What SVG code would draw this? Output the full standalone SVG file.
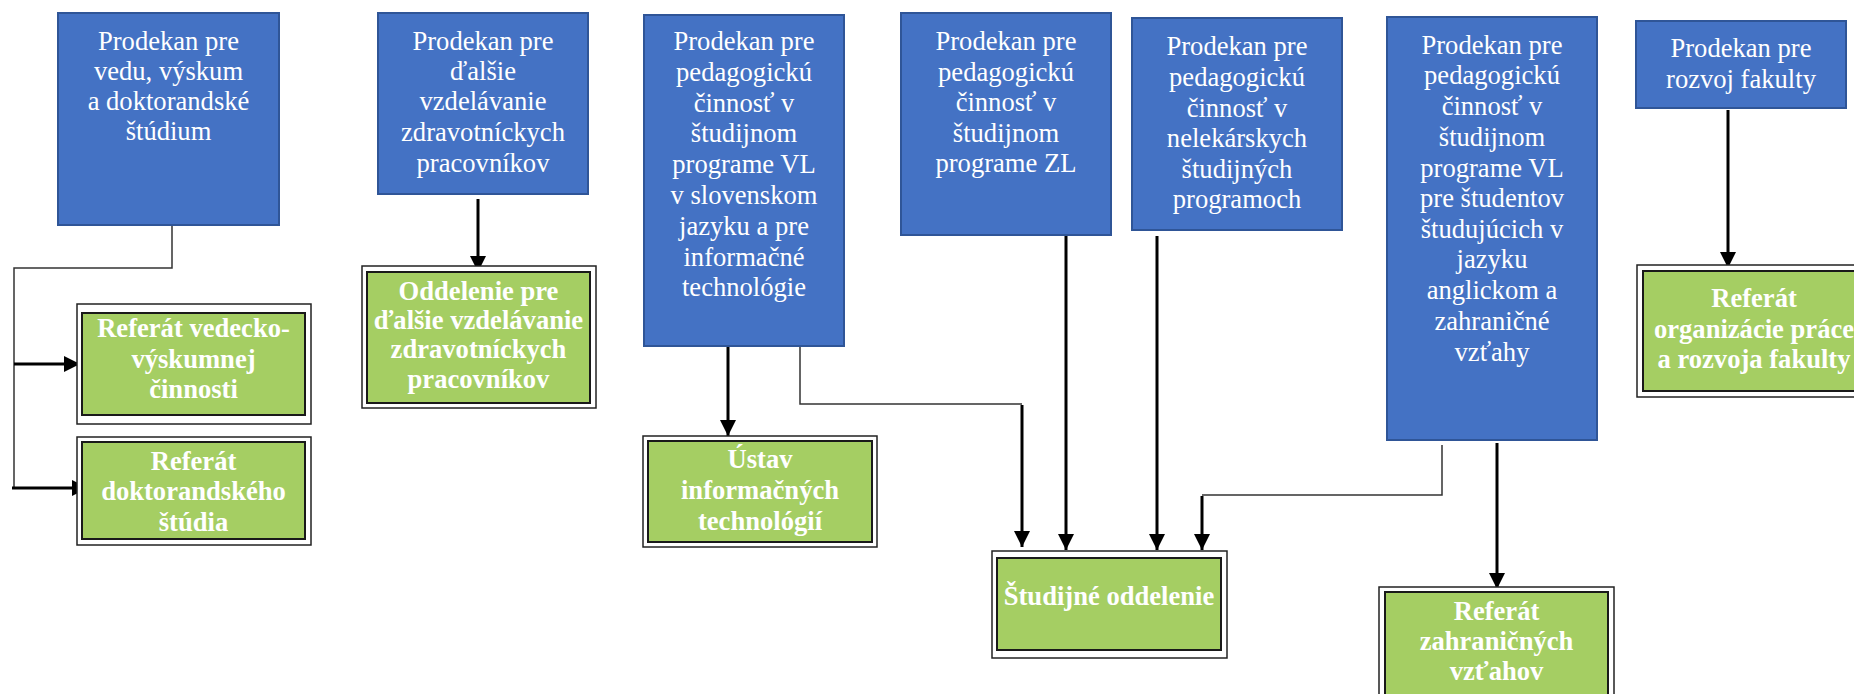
<svg xmlns="http://www.w3.org/2000/svg" width="1854" height="694" viewBox="0 0 1854 694">
<style>
.bg{fill:#ffffff}
.blue{fill:#4472C4;stroke:#2F5597;stroke-width:2}
.outer{fill:#ffffff;stroke:#222222;stroke-width:1.5}
.green{fill:#A5CE63;stroke:#1a1a1a;stroke-width:2}
.bt{font-family:"Liberation Serif","Times New Roman",serif;font-size:26.6px;fill:#ffffff;text-anchor:middle}
.gt{font-family:"Liberation Serif","Times New Roman",serif;font-size:26.6px;font-weight:bold;fill:#ffffff;text-anchor:middle}
.thin{fill:none;stroke:#333333;stroke-width:1.5}
.thick{fill:none;stroke:#000000;stroke-width:3}
</style>
<defs>
<marker id="ah" viewBox="0 0 16 16" refX="16" refY="8" markerWidth="16" markerHeight="16" markerUnits="userSpaceOnUse" orient="auto">
<path d="M0,0 L16,8 L0,16 z" fill="#000000"/>
</marker>
</defs>
<rect class="bg" x="0" y="0" width="1854" height="694"/>

<g id="connectors">
<path class="thin" d="M172,225 V268 H14 V488"/>
<line class="thick" x1="14" y1="364" x2="80" y2="364" marker-end="url(#ah)"/>
<line class="thick" x1="12" y1="488" x2="88" y2="488" marker-end="url(#ah)"/>
<line class="thick" x1="478" y1="199" x2="478" y2="272" marker-end="url(#ah)"/>
<line class="thick" x1="728" y1="346" x2="728" y2="436" marker-end="url(#ah)"/>
<path class="thin" d="M800,346 V404 H1022"/>
<line class="thick" x1="1022" y1="405" x2="1022" y2="547" marker-end="url(#ah)"/>
<line class="thick" x1="1066" y1="232" x2="1066" y2="550" marker-end="url(#ah)"/>
<line class="thick" x1="1157" y1="236" x2="1157" y2="550" marker-end="url(#ah)"/>
<path class="thin" d="M1442,445 V495 H1202"/>
<line class="thick" x1="1202" y1="496" x2="1202" y2="550" marker-end="url(#ah)"/>
<line class="thick" x1="1497" y1="443" x2="1497" y2="589" marker-end="url(#ah)"/>
<line class="thick" x1="1728" y1="110" x2="1728" y2="268" marker-end="url(#ah)"/>
</g>

<g id="p-veda">
<rect class="blue" x="58" y="13" width="221" height="212"/>
<text class="bt" x="168.5" y="50">Prodekan pre</text>
<text class="bt" x="168.5" y="80">vedu, výskum</text>
<text class="bt" x="168.5" y="110">a doktorandské</text>
<text class="bt" x="168.5" y="140">štúdium</text>
</g>

<g id="p-dalsie">
<rect class="blue" x="378" y="13" width="210" height="181"/>
<text class="bt" x="483" y="50">Prodekan pre</text>
<text class="bt" x="483" y="80">ďalšie</text>
<text class="bt" x="483" y="110">vzdelávanie</text>
<text class="bt" x="483" y="141">zdravotníckych</text>
<text class="bt" x="483" y="172">pracovníkov</text>
</g>

<g id="p-vl-sk">
<rect class="blue" x="644" y="15" width="200" height="331"/>
<text class="bt" x="744" y="50">Prodekan pre</text>
<text class="bt" x="744" y="81">pedagogickú</text>
<text class="bt" x="744" y="112">činnosť v</text>
<text class="bt" x="744" y="142">študijnom</text>
<text class="bt" x="744" y="173">programe VL</text>
<text class="bt" x="744" y="204">v slovenskom</text>
<text class="bt" x="744" y="235">jazyku a pre</text>
<text class="bt" x="744" y="266">informačné</text>
<text class="bt" x="744" y="296">technológie</text>
</g>

<g id="p-zl">
<rect class="blue" x="901" y="13" width="210" height="222"/>
<text class="bt" x="1006" y="50">Prodekan pre</text>
<text class="bt" x="1006" y="81">pedagogickú</text>
<text class="bt" x="1006" y="111">činnosť v</text>
<text class="bt" x="1006" y="142">študijnom</text>
<text class="bt" x="1006" y="172">programe ZL</text>
</g>

<g id="p-nelek">
<rect class="blue" x="1132" y="18" width="210" height="212"/>
<text class="bt" x="1237" y="55">Prodekan pre</text>
<text class="bt" x="1237" y="86">pedagogickú</text>
<text class="bt" x="1237" y="117">činnosť v</text>
<text class="bt" x="1237" y="147">nelekárskych</text>
<text class="bt" x="1237" y="178">študijných</text>
<text class="bt" x="1237" y="208">programoch</text>
</g>

<g id="p-vl-en">
<rect class="blue" x="1387" y="17" width="210" height="423"/>
<text class="bt" x="1492" y="54">Prodekan pre</text>
<text class="bt" x="1492" y="84">pedagogickú</text>
<text class="bt" x="1492" y="115">činnosť v</text>
<text class="bt" x="1492" y="146">študijnom</text>
<text class="bt" x="1492" y="177">programe VL</text>
<text class="bt" x="1492" y="207">pre študentov</text>
<text class="bt" x="1492" y="238">študujúcich v</text>
<text class="bt" x="1492" y="268">jazyku</text>
<text class="bt" x="1492" y="299">anglickom a</text>
<text class="bt" x="1492" y="330">zahraničné</text>
<text class="bt" x="1492" y="361">vzťahy</text>
</g>

<g id="p-rozvoj">
<rect class="blue" x="1636" y="21" width="210" height="87"/>
<text class="bt" x="1741" y="57">Prodekan pre</text>
<text class="bt" x="1741" y="88">rozvoj fakulty</text>
</g>

<g id="r-vedecko">
<rect class="outer" x="77" y="304" width="234" height="120"/>
<rect class="green" x="82" y="313" width="223" height="102"/>
<text class="gt" x="193.5" y="337">Referát vedecko-</text>
<text class="gt" x="193.5" y="368">výskumnej</text>
<text class="gt" x="193.5" y="398">činnosti</text>
</g>

<g id="r-doktorand">
<rect class="outer" x="77" y="437" width="234" height="108"/>
<rect class="green" x="82" y="442" width="223" height="97"/>
<text class="gt" x="193.5" y="470">Referát</text>
<text class="gt" x="193.5" y="500">doktorandského</text>
<text class="gt" x="193.5" y="531">štúdia</text>
</g>

<g id="o-dalsie">
<rect class="outer" x="362" y="266" width="234" height="142"/>
<rect class="green" x="367" y="272" width="223" height="131"/>
<text class="gt" x="478.5" y="300">Oddelenie pre</text>
<text class="gt" x="478.5" y="329">ďalšie vzdelávanie</text>
<text class="gt" x="478.5" y="358">zdravotníckych</text>
<text class="gt" x="478.5" y="388">pracovníkov</text>
</g>

<g id="u-it">
<rect class="outer" x="643" y="436" width="234" height="111"/>
<rect class="green" x="648" y="441" width="224" height="101"/>
<text class="gt" x="760" y="468">Ústav</text>
<text class="gt" x="760" y="499">informačných</text>
<text class="gt" x="760" y="530">technológií</text>
</g>

<g id="s-oddelenie">
<rect class="outer" x="992" y="551" width="235" height="107"/>
<rect class="green" x="997" y="558" width="224" height="92"/>
<text class="gt" x="1109" y="605">Študijné oddelenie</text>
</g>

<g id="r-zahranicne">
<rect class="outer" x="1379" y="587" width="235" height="120"/>
<rect class="green" x="1385" y="592" width="223" height="110"/>
<text class="gt" x="1496.5" y="620">Referát</text>
<text class="gt" x="1496.5" y="650">zahraničných</text>
<text class="gt" x="1496.5" y="680">vzťahov</text>
</g>

<g id="r-organizacia">
<rect class="outer" x="1637" y="265" width="235" height="132"/>
<rect class="green" x="1643" y="271" width="223" height="120"/>
<text class="gt" x="1754" y="307">Referát</text>
<text class="gt" x="1754" y="338">organizácie práce</text>
<text class="gt" x="1754" y="368">a rozvoja fakulty</text>
</g>
</svg>
